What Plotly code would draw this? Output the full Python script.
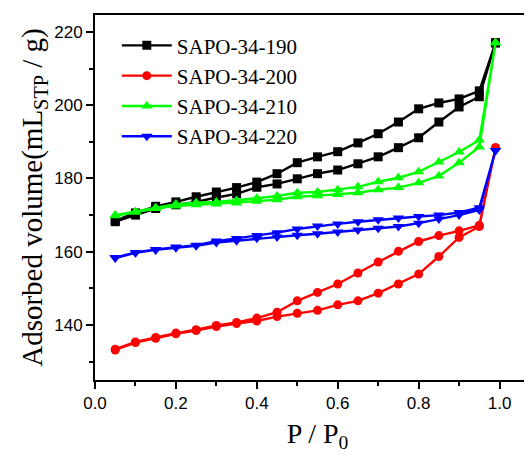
import plotly.graph_objects as go

# Relative pressure points (adsorption branch, then desorption branch)
p_ads = [0.05, 0.10, 0.15, 0.20, 0.25, 0.30, 0.35, 0.40, 0.45, 0.50,
         0.55, 0.60, 0.65, 0.70, 0.75, 0.80, 0.85, 0.90, 0.95, 0.99]
p_des = [0.99, 0.95, 0.90, 0.85, 0.80, 0.75, 0.70, 0.65, 0.60, 0.55,
         0.50, 0.45, 0.40, 0.35, 0.30, 0.25, 0.20, 0.15, 0.10, 0.05]

names = ["SAPO-34-190", "SAPO-34-200", "SAPO-34-210", "SAPO-34-220"]

s190_ads = [168.2, 170.0, 171.8, 172.8, 173.6, 174.8, 175.8, 177.6, 178.5, 179.9,
            181.3, 182.3, 184.0, 185.9, 188.4, 191.1, 195.4, 199.5, 202.3, 217.0]
s190_des = [217.0, 203.9, 201.7, 200.6, 199.0, 195.4, 192.2, 189.7, 187.3, 185.9,
            184.3, 181.3, 179.0, 177.5, 176.3, 175.0, 173.6, 172.4, 170.6, 168.5]

s200_ads = [133.2, 135.2, 136.4, 137.6, 138.5, 139.6, 140.4, 141.1, 142.3, 143.2,
            144.0, 145.5, 146.6, 148.7, 151.2, 153.9, 158.7, 163.9, 166.9, 188.4]
s200_des = [188.4, 167.2, 165.7, 164.4, 162.8, 160.1, 157.2, 154.2, 151.2, 148.9,
            146.6, 143.5, 141.9, 140.7, 139.9, 138.7, 137.8, 136.6, 135.4, 133.4]

s210_ads = [169.8, 170.8, 171.8, 172.5, 172.8, 173.0, 173.3, 173.8, 174.2, 175.0,
            175.3, 175.6, 176.1, 176.9, 177.5, 178.8, 180.7, 184.3, 188.6, 217.0]
s210_des = [217.0, 190.5, 187.2, 184.5, 181.8, 180.2, 179.1, 177.7, 176.9, 176.3,
            176.1, 175.2, 174.6, 174.0, 173.6, 173.4, 173.0, 172.0, 171.0, 170.0]

s220_ads = [158.3, 159.7, 160.5, 161.1, 161.6, 162.5, 163.0, 163.7, 164.0, 164.5,
            164.9, 165.4, 165.9, 166.4, 166.9, 167.8, 168.9, 170.0, 171.4, 187.6]
s220_des = [187.6, 172.0, 170.7, 170.0, 169.6, 169.2, 168.7, 168.2, 167.6, 167.0,
            166.2, 165.2, 164.4, 163.6, 162.9, 161.8, 161.3, 160.6, 159.8, 158.4]

x_ticks = [0.0, 0.2, 0.4, 0.6, 0.8, 1.0]
x_tick_text = ["0.0", "0.2", "0.4", "0.6", "0.8", "1.0"]
y_ticks = [140, 160, 180, 200, 220]

series = [
    (names[0], s190_ads, s190_des, "#000000", "square"),
    (names[1], s200_ads, s200_des, "#ff0000", "circle"),
    (names[2], s210_ads, s210_des, "#00ff00", "triangle-up"),
    (names[3], s220_ads, s220_des, "#0000ff", "triangle-down"),
]

fig = go.Figure()
for name, ads, des, color, sym in series:
    fig.add_trace(go.Scatter(
        x=p_ads + p_des, y=ads + des, name=name, mode="lines+markers",
        line=dict(color=color, width=2.4),
        marker=dict(color=color, symbol=sym, size=10 if "triangle" in sym else 9),
    ))

serif = "Liberation Serif, Times New Roman, serif"
axis_font = dict(family="Liberation Sans, Arial", size=17, color="#000")
# the page body adds an 8px offset, so margins are reduced accordingly
fig.update_layout(
    width=532, height=456,
    margin=dict(l=87, r=0, t=7, b=84),
    paper_bgcolor="white", plot_bgcolor="white",
    showlegend=True,
    legend=dict(x=0.049, y=0.972, xanchor="left", yanchor="top",
                font=dict(family=serif, size=21, color="#000"),
                bgcolor="rgba(0,0,0,0)", tracegroupgap=0, itemwidth=50),
    xaxis=dict(range=[0, 1.1], tickvals=x_ticks, ticktext=x_tick_text,
               ticks="outside", ticklen=7, tickwidth=2, tickcolor="#000",
               minor=dict(ticks="outside", ticklen=4, tickwidth=2, dtick=0.1, tick0=0, tickcolor="#000"),
               showline=True, linewidth=2, linecolor="#000", mirror=True,
               showgrid=False, zeroline=False, tickfont=axis_font, automargin=False,
               title=dict(text="P / P<sub>0</sub>", standoff=11,
                          font=dict(family=serif, size=28, color="#000"))),
    yaxis=dict(range=[125.0, 224.6], tickvals=y_ticks,
               ticks="outside", ticklen=7, tickwidth=2, tickcolor="#000",
               minor=dict(ticks="outside", ticklen=4, tickwidth=2, dtick=10, tick0=130, tickcolor="#000"),
               showline=True, linewidth=2, linecolor="#000", mirror=False,
               showgrid=False, zeroline=False, tickfont=axis_font, automargin=False,
               title=dict(text="Adsorbed volume(mL<sub>STP</sub> / g)", standoff=3,
                          font=dict(family=serif, size=29, color="#000"))),
)

fig.write_html("out.html")
